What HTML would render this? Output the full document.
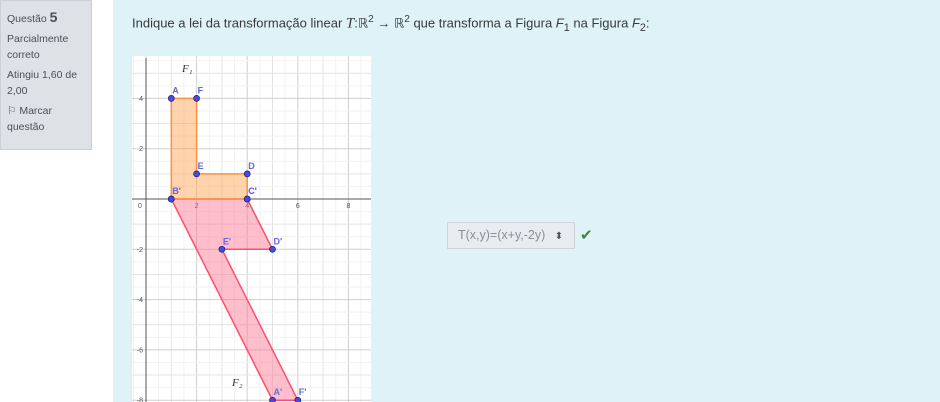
<!DOCTYPE html>
<html><head><meta charset="utf-8"><style>
body{margin:0;width:940px;height:402px;overflow:hidden;background:#fff;font-family:"Liberation Sans",sans-serif;position:relative}
#info{position:absolute;left:0;top:0;width:92px;height:150px;background:#dee2e6;border:1px solid #cad0d7;box-sizing:border-box;font-size:10.5px;color:#495057;padding:8px 6px}
#info div{line-height:16px}
#content{position:absolute;left:113px;top:0;width:827px;height:402px;background:#def2f8}
#q{position:absolute;left:19px;top:14px;font-size:13px;color:#373a3c}
#sel{position:absolute;left:334px;top:222px;width:128px;height:27px;border:1px solid #ced4da;background:#e9ecef;box-sizing:border-box;font-size:12.5px;color:#8a9096;line-height:25px;padding-left:10px}
</style></head><body>
<div id="info">
<div>Questão <b style="font-size:14px">5</b></div>
<div style="margin-top:4px">Parcialmente<br>correto</div>
<div style="margin-top:4px">Atingiu 1,60 de<br>2,00</div>
<div style="margin-top:4px">⚐ Marcar<br>questão</div>
</div>
<div id="content">
<div id="q">Indique a lei da transformação linear <i style="font-family:'Liberation Serif',serif;font-size:15px">T</i>:ℝ<sup style="font-size:10px">2</sup> → ℝ<sup style="font-size:10px">2</sup> que transforma a Figura <i>F</i><sub>1</sub> na Figura <i>F</i><sub>2</sub>:</div>
<div id="sel">T(x,y)=(x+y,-2y) <span style="color:#555;font-size:10px;margin-left:6px">⬍</span></div>
<div style="position:absolute;left:467px;top:226px;color:#3a8a3a;font-size:15px">✔</div>
</div>
<svg id="chart" style="position:absolute;left:0;top:0" width="940" height="402"></svg>
<script>
const f1x=[1,2,2,4,4,1], f1y=[4,4,1,1,0,0];
const f2x=[1,4,5,3,6,5], f2y=[0,0,-2,-2,-8,-8];
const f1Labels=['A','F','E','D',"C'","B'"], f2Labels=["B'","C'","D'","E'","F'","A'"];
const xTicks=[2,4,6,8], yTicks=[4,2,-2,-4,-6,-8];
const NS='http://www.w3.org/2000/svg', svg=document.getElementById('chart');
const X=v=>146+v*25.3, Y=v=>199-v*25.15;
function el(t,a,p){const e=document.createElementNS(NS,t);for(const k in a)e.setAttribute(k,a[k]);(p||svg).appendChild(e);return e;}
const bg=el('rect',{x:132,y:56,width:239,height:346,fill:'#fff'});


function gc(v){return v%2==0?'#cfcfcf':(v%1==0?'#e4e4e4':'#f2f2f2');}
for(let v=-0.5;v<=8.8;v+=0.5){const l=el('line',{x1:X(v),x2:X(v),y1:56,y2:402,stroke:gc(v),'stroke-width':1});}
for(let v=5.5;v>=-8.2;v-=0.5){const l=el('line',{y1:Y(v),y2:Y(v),x1:132,x2:371,stroke:gc(v),'stroke-width':1});}
const xa=el('line',{x1:132,x2:371,y1:Y(0),y2:Y(0),stroke:'#555','stroke-width':1});


const ya=el('line',{x1:X(0),x2:X(0),y1:58,y2:402,stroke:'#555','stroke-width':1});


xTicks.forEach(v=>{const t=el('text',{x:X(v),y:Y(0)+9,'font-size':7,fill:'#555','text-anchor':'middle'});t.textContent=v;});
const z=el('text',{x:X(0)-6,y:Y(0)+9,'font-size':7,fill:'#555','text-anchor':'middle'});z.textContent='0';


yTicks.forEach(v=>{const t=el('text',{x:X(0)-3,y:Y(v)+2.5,'font-size':7,fill:'#555','text-anchor':'end'});t.textContent=v;});
function fig(xs,ys,labels,fill,stroke,name){
 const p=el('polygon',{points:xs.map((x,i)=>X(x)+','+Y(ys[i])).join(' '),fill:fill,'fill-opacity':0.45,stroke:stroke,'stroke-width':1.5});
 
 
 xs.forEach((x,i)=>{const c=el('circle',{cx:X(x),cy:Y(ys[i]),r:3,fill:'#4a4ad8',stroke:'#1a1a80','stroke-width':0.7});
  
  
  const t=el('text',{x:X(x)+1,y:Y(ys[i])-5,'font-size':9,'font-weight':'bold',fill:'#6666e0'});t.textContent=labels[i];
  
  });
}
fig(f2x,f2y,f2Labels,'#ff6f8f','#ff4d6d','figure-f2');
fig(f1x,f1y,f1Labels,'#ff9f4a','#ff9040','figure-f1');
const l1=el('text',{x:182,y:72,'font-size':11,'font-style':'italic','font-family':'Liberation Serif',fill:'#333'});l1.textContent='F₁';


const l2=el('text',{x:232,y:386,'font-size':11,'font-style':'italic','font-family':'Liberation Serif',fill:'#333'});l2.textContent='F₂';


</script>
</body></html>
